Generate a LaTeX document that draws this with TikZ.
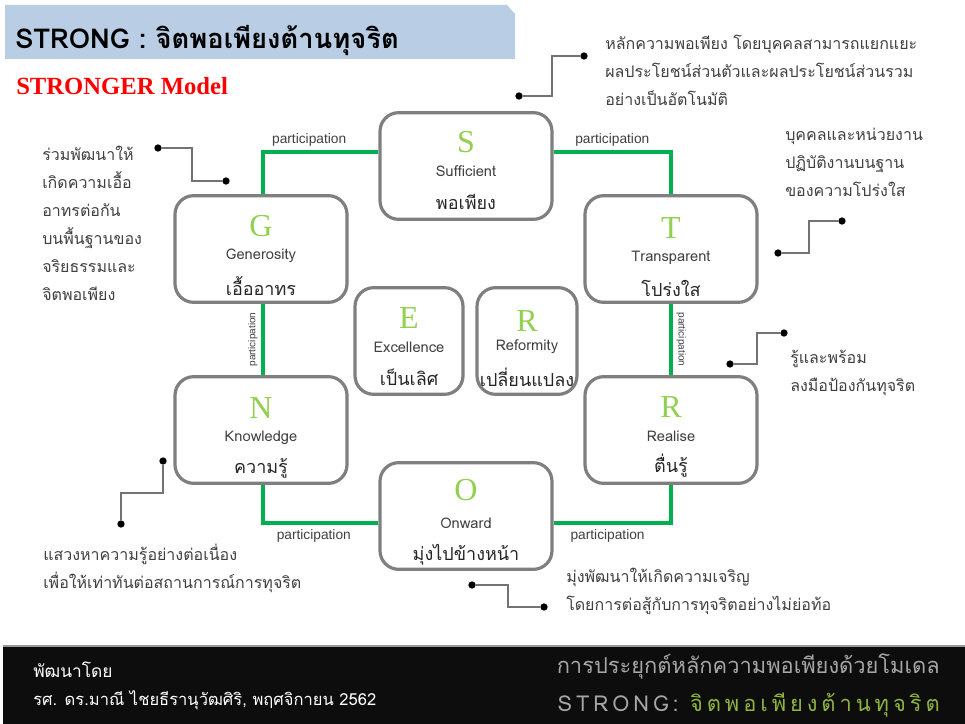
\documentclass[tikz,border=0pt]{standalone}
\usepackage{fontspec}
\setmainfont{Liberation Sans}
\newfontfamily\thai[Script=Thai]{Loma}
\newfontfamily\serifL{Liberation Serif}
\usetikzlibrary{calc}
\definecolor{titlebg}{HTML}{B9CDE5}
\definecolor{boxgray}{HTML}{7F7F7F}
\definecolor{lgreen}{HTML}{92D050}
\definecolor{pgreen}{HTML}{00B050}
\definecolor{txtgray}{HTML}{404040}
\definecolor{footbg}{HTML}{0D0D0D}
\definecolor{footgray}{HTML}{A6A6A6}
\definecolor{footgreen}{HTML}{8DB43E}
\tikzset{
  box/.style={draw=boxgray, line width=2.4pt, rounded corners=14pt, fill=white},
  bigbox/.style={box, minimum width=129pt, minimum height=80pt},
  letter/.style={font=\serifL\fontsize{24}{24}\selectfont, text=lgreen, inner sep=0pt},
  ename/.style={font=\thai\fontsize{11}{13}\selectfont, text=txtgray, inner sep=0pt},
  tname/.style={font=\thai\fontsize{13.5}{15}\selectfont, text=black!85, inner sep=0pt},
  plink/.style={draw=pgreen, line width=2.5pt},
  ptext/.style={font=\fontsize{10.3}{12}\selectfont, text=txtgray, inner sep=1pt},
  vptext/.style={font=\fontsize{7.5}{9}\selectfont, text=txtgray, inner sep=1pt},
  lead/.style={draw=black!55, line width=0.9pt},
  leaddot/.style={circle, fill=black, inner sep=0pt, minimum size=5.5pt},
  note/.style={font=\thai\fontsize{12}{21}\selectfont, text=txtgray, anchor=north west, align=left, inner sep=0pt},
}
\begin{document}
\begin{tikzpicture}[x=0.75pt, y=-0.75pt]
\useasboundingbox (0,0) rectangle (965,724);
\fill[white] (0,0) rectangle (965,724);
% title
\fill[titlebg] (5,5) -- (507,5) -- (515,14) -- (515,59) -- (5,59) -- cycle;
\node[anchor=west, inner sep=0pt, font=\thai\bfseries\fontsize{20.5}{24}\selectfont] (title) at (15,40) {STRONG : จิตพอเพียงต้านทุจริต};
\node[anchor=west, inner sep=0pt, text=red, font=\serifL\bfseries\fontsize{18.5}{20}\selectfont] (sub) at (16,86) {STRONGER Model};
% boxes
\node[bigbox] (S) at (466,166) {};
\node[bigbox] (G) at (261,249) {};
\node[bigbox] (T) at (671,249) {};
\node[bigbox] (N) at (261,430) {};
\node[bigbox] (R2) at (671,430) {};
\node[bigbox] (O) at (466,516) {};
\node[box, minimum width=81pt, minimum height=80pt] (E) at (409,341) {};
\node[box, minimum width=75pt, minimum height=80pt] (R1) at (527,341) {};
% box texts
\node[letter] (Sl) at (466,142) {S};
\node[ename] (Se) at (466,171) {Sufficient};
\node[tname] (St) at (466,202) {พอเพียง};
\node[letter] (Gl) at (261,226) {G};
\node[ename] (Ge) at (261,256) {Generosity};
\node[tname] (Gt) at (261,286) {เอื้ออาทร};
\node[letter] (Tl) at (671,228) {T};
\node[ename] (Te) at (671,258) {Transparent};
\node[tname] (Tt) at (671,288) {โปร่งใส};
\node[letter] (El) at (409,318) {E};
\node[ename] (Ee) at (409,347) {Excellence};
\node[tname] (Et) at (409,377) {เป็นเลิศ};
\node[letter] (Rl) at (527,321) {R};
\node[ename] (Re) at (527,347) {Reformity};
\node[tname] (Rt) at (527,377) {เปลี่ยนแปลง};
\node[letter] (Nl) at (261,408) {N};
\node[ename] (Ne) at (261,438) {Knowledge};
\node[tname] (Nt) at (261,468) {ความรู้};
\node[letter] (R2l) at (671,407) {R};
\node[ename] (R2e) at (671,436) {Realise};
\node[tname] (R2t) at (671,466) {ตื่นรู้};
\node[letter] (Ol) at (466,490) {O};
\node[ename] (Oe) at (466,523) {Onward};
\node[tname] (Ot) at (466,555) {มุ่งไปข้างหน้า};
% participation links
\draw[plink] ([xshift=1.5pt]G.north) |- node[pos=0.70, above=2pt, ptext] {participation} ([yshift=10.5pt]S.west);
\draw[plink] ([yshift=10.5pt]S.east) -| node[pos=0.25, above=2pt, ptext] {participation} (T.north);
\draw[plink] ([xshift=1.5pt]G.south) -- node[midway, rotate=90, anchor=south, vptext, yshift=2pt] {participation} ([xshift=1.5pt]N.north);
\draw[plink] (T.south) -- node[midway, rotate=-90, anchor=south, vptext, yshift=2pt] {participation} (R2.north);
\draw[plink] ([xshift=1.5pt]N.south) |- node[pos=0.72, below=3pt, ptext] {participation} ([yshift=-5.25pt]O.west);
\draw[plink] ([yshift=-5.25pt]O.east) -| node[pos=0.23, below=3pt, ptext] {participation} (R2.south);
% annotations
\node[note] (n1) at (605,35) {หลักความพอเพียง โดยบุคคลสามารถแยกแยะ\\ผลประโยชน์ส่วนตัวและผลประโยชน์ส่วนรวม\\อย่างเป็นอัตโนมัติ};
\node[leaddot] (d1a) at (584,56) {};
\node[leaddot] (d1b) at (519,96) {};
\coordinate (m1) at (552,76);
\draw[lead] (d1a) -| (m1) |- (d1b);
\node[note] (n2) at (42,146) {ร่วมพัฒนาให้\\เกิดความเอื้อ\\อาทรต่อกัน\\บนพื้นฐานของ\\จริยธรรมและ\\จิตพอเพียง};
\node[leaddot] (d2a) at (158,148) {};
\node[leaddot] (d2b) at (226,181) {};
\coordinate (m2) at (192,165);
\draw[lead] (d2a) -| (m2) |- (d2b);
\node[note] (n3) at (785,128) {บุคคลและหน่วยงาน\\ปฏิบัติงานบนฐาน\\ของความโปร่งใส};
\node[leaddot] (d3a) at (842,221) {};
\node[leaddot] (d3b) at (778,253) {};
\coordinate (m3) at (809,237);
\draw[lead] (d3a) -| (m3) |- (d3b);
\node[note] (n4) at (790,350) {รู้และพร้อม\\ลงมือป้องกันทุจริต};
\node[leaddot] (d4a) at (784,333) {};
\node[leaddot] (d4b) at (730,364) {};
\coordinate (m4) at (757,348);
\draw[lead] (d4a) -| (m4) |- (d4b);
\node[note] (n5) at (43,544) {แสวงหาความรู้อย่างต่อเนื่อง\\เพื่อให้เท่าทันต่อสถานการณ์การทุจริต};
\node[leaddot] (d5a) at (163,461) {};
\node[leaddot] (d5b) at (121,524) {};
\coordinate (m5) at (142,493);
\draw[lead] (d5a) |- (m5) -| (d5b);
\node[note] (n6) at (566,568) {มุ่งพัฒนาให้เกิดความเจริญ\\โดยการต่อสู้กับการทุจริตอย่างไม่ย่อท้อ};
\node[leaddot] (d6a) at (472,585) {};
\node[leaddot] (d6b) at (544,607) {};
\coordinate (m6) at (508,596);
\draw[lead] (d6a) -| (m6) |- (d6b);
% footer
\fill[footbg] (3,647) rectangle (965,724);
\draw[black!40, line width=0.8pt] (3,646) -- (965,646);
\node[anchor=west, inner sep=0pt, text=white, font=\thai\fontsize{13}{15}\selectfont] (f1) at (33,670) {พัฒนาโดย};
\node[anchor=west, inner sep=0pt, text=white, font=\thai\fontsize{12.4}{15}\selectfont] (f2) at (33,700) {รศ. ดร.มาณี ไชยธีรานุวัฒศิริ, พฤศจิกายน 2562};
\node[anchor=east, inner sep=0pt, text=footgray, font=\thai\fontsize{16.4}{18}\selectfont] (f3) at (940,667) {การประยุกต์หลักความพอเพียงด้วยโมเดล};
\node[anchor=east, inner sep=0pt, font=\thai\fontsize{16.4}{18}\selectfont] (f4) at (940,705) {\addfontfeatures{LetterSpace=18}\textcolor{footgray}{STRONG:} \textcolor{footgreen}{จิตพอเพียงต้านทุจริต}};
\end{tikzpicture}
\end{document}
